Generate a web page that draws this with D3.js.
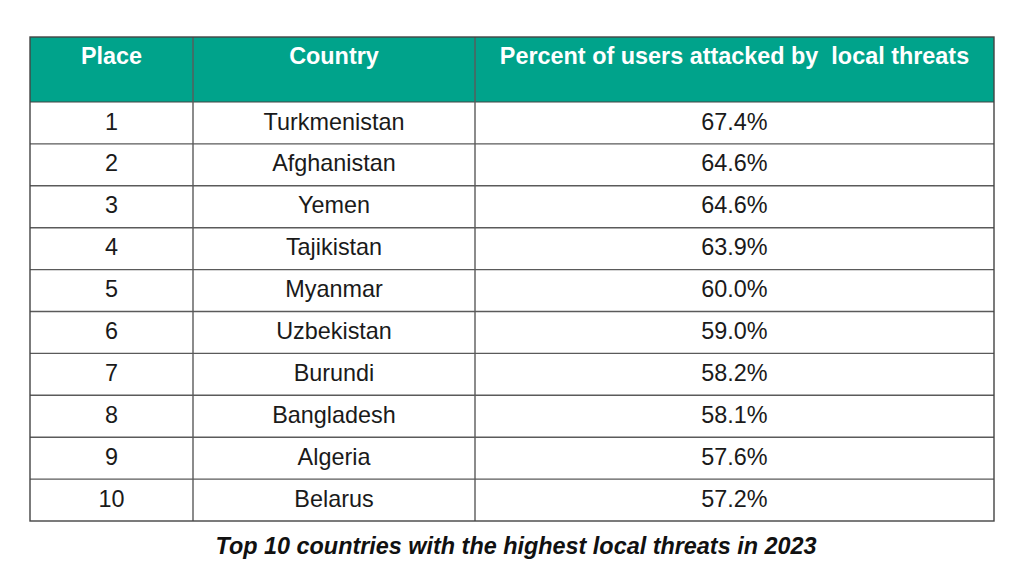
<!DOCTYPE html>
<html><head><meta charset="utf-8">
<script src="https://cdn.jsdelivr.net/npm/d3@7"></script>
<style>body{margin:0;background:#fff}svg{display:block}</style>
</head><body><svg id="c" width="1024" height="580"></svg>
<script>
const headers = ["Place", "Country", "Percent of users attacked by  local threats"];
const places = [1,2,3,4,5,6,7,8,9,10];
const countries = ["Turkmenistan","Afghanistan","Yemen","Tajikistan","Myanmar","Uzbekistan","Burundi","Bangladesh","Algeria","Belarus"];
const values = [67.4,64.6,64.6,63.9,60.0,59.0,58.2,58.1,57.6,57.2];
const caption = "Top 10 countries with the highest local threats in 2023";

const svg = d3.select("#c");
const L = 30, R = 994, T = 37, HB = 102, B = 521;
const colEdges = [L, 193, 475, R];
const font = "Arial, 'Liberation Sans', sans-serif";
const fs = 23.4;

const y = d3.scaleBand().domain(places).range([HB, B]).padding(0);

// header
svg.append("rect").attr("x", L).attr("y", T).attr("width", R - L).attr("height", HB - T).attr("fill", "#00a38b");
svg.selectAll("text.h").data(headers).join("text").attr("class","h")
  .attr("x", (d,i) => (colEdges[i] + colEdges[i+1]) / 2)
  .attr("y", 63.5)
  .attr("text-anchor", "middle")
  .attr("font-family", font).attr("font-weight", "bold").attr("font-size", fs)
  .attr("fill", "#ffffff").style("white-space", "pre")
  .text(d => d);

const rows = places.map((p, i) => [String(p), countries[i], values[i].toFixed(1) + "%"]);
const g = svg.append("g");
rows.forEach((r, ri) => {
  g.selectAll(null).data(r).join("text")
    .attr("x", (d,i) => (colEdges[i] + colEdges[i+1]) / 2)
    .attr("y", y(places[ri]) + y.bandwidth() / 2 + 6.6)
    .attr("text-anchor", "middle")
    .attr("font-family", font).attr("font-size", fs).attr("fill", "#1a1a1a")
    .text(d => d);
});

// grid lines
const lineCol = "#5a5a5a";
places.slice(1).forEach(p => {
  svg.append("line").attr("x1", L).attr("x2", R).attr("y1", y(p)).attr("y2", y(p))
    .attr("stroke", lineCol).attr("stroke-width", 1.4);
});
svg.append("line").attr("x1", L).attr("x2", R).attr("y1", HB).attr("y2", HB).attr("stroke", "#444").attr("stroke-width", 1.2);
colEdges.slice(1, 3).forEach(x => {
  svg.append("line").attr("x1", x).attr("x2", x).attr("y1", T).attr("y2", B)
    .attr("stroke", lineCol).attr("stroke-width", 1.4);
});
svg.append("rect").attr("x", L).attr("y", T).attr("width", R - L).attr("height", B - T)
  .attr("fill", "none").attr("stroke", "#444").attr("stroke-width", 1.4);

svg.append("text").attr("x", 516).attr("y", 554).attr("text-anchor", "middle")
  .attr("font-family", font).attr("font-weight", "bold").attr("font-style", "italic")
  .attr("font-size", fs).attr("fill", "#111").text(caption);
</script></body></html>
